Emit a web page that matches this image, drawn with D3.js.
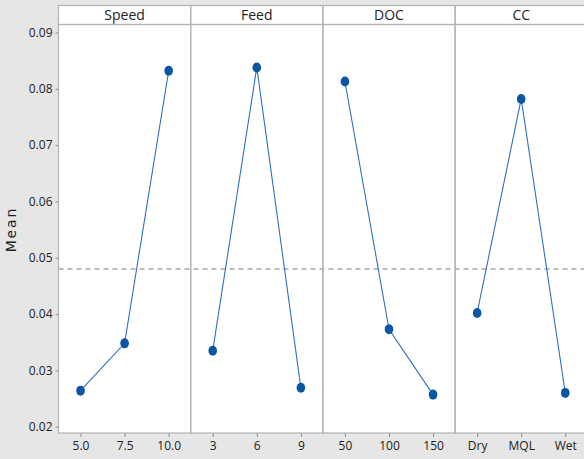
<!DOCTYPE html>
<html>
<head>
<meta charset="utf-8">
<script src="https://cdn.jsdelivr.net/npm/d3@7"></script>
<style>
  html, body { margin: 0; padding: 0; background: #e6e6e6; }
  svg { display: block; }
  text { font-family: "Open Sans", "Noto Sans", sans-serif; fill: #222; }
</style>
</head>
<body>
<svg id="chart" width="584" height="459"></svg>
<script>
// Main effects plot for means
const factors = ["Speed", "Feed", "DOC", "CC"];
const levels = [
  ["5.0", "7.5", "10.0"],
  ["3", "6", "9"],
  ["50", "100", "150"],
  ["Dry", "MQL", "Wet"]
];
const means = [
  [0.0264, 0.0348, 0.0832],
  [0.0335, 0.0838, 0.0269],
  [0.0813, 0.0373, 0.0257],
  [0.0402, 0.0782, 0.0260]
];
const grandMean = 0.0480;
const yTicks = [0.02, 0.03, 0.04, 0.05, 0.06, 0.07, 0.08, 0.09];

const svg = d3.select("#chart");
const plotLeft = 58.5, plotTop = 24.5, plotBottom = 433, stripTop = 5.5;
const panelW = 132.2;

const y = d3.scaleLinear().domain([0.01888, 0.09142]).range([plotBottom, plotTop]);
const panelX = d3.scaleBand().domain(factors).range([plotLeft, plotLeft + panelW * factors.length]);

// White plotting area and strip area
svg.append("rect")
  .attr("x", plotLeft).attr("y", stripTop)
  .attr("width", panelW * factors.length).attr("height", plotBottom - stripTop)
  .attr("fill", "#fff");

// Grand mean reference line
svg.append("line")
  .attr("x1", plotLeft).attr("x2", 584)
  .attr("y1", y(grandMean)).attr("y2", y(grandMean))
  .attr("stroke", "#a6a6a6").attr("stroke-width", 1.3)
  .attr("stroke-dasharray", "5,4");

// Y axis
const yAxis = d3.axisLeft(y).tickValues(yTicks).tickFormat(d3.format(".2f")).tickSize(3).tickPadding(3);
const ya = svg.append("g").attr("transform", `translate(${plotLeft},0)`).call(yAxis);
ya.select(".domain").remove();
ya.selectAll(".tick line").attr("stroke", "#888");
ya.selectAll(".tick text").attr("font-size", 12).style("font-family", "'Open Sans', sans-serif").attr("fill", "#222");

// Y axis title
svg.append("text")
  .attr("transform", `translate(16,${y(0.055)}) rotate(-90)`)
  .attr("text-anchor", "middle")
  .attr("font-size", 14)
  .attr("letter-spacing", 1.8)
  .style("font-family", "'DejaVu Sans', sans-serif")
  .text("Mean");

const line = d3.line();

factors.forEach((f, i) => {
  const x0 = panelX(f);
  const x = d3.scalePoint().domain(levels[i]).range([x0, x0 + panelW]).padding(0.5);
  const g = svg.append("g");

  // x axis for this panel
  const xa = g.append("g").attr("transform", `translate(0,${plotBottom})`)
    .call(d3.axisBottom(x).tickSize(4).tickPadding(4));
  xa.select(".domain").remove();
  xa.selectAll(".tick line").attr("stroke", "#888");
  xa.selectAll(".tick text").attr("font-size", 12).style("font-family", "'Open Sans', sans-serif").attr("fill", "#222");

  // strip label
  g.append("text")
    .attr("x", x0 + panelW / 2).attr("y", (stripTop + plotTop) / 2 + 5)
    .attr("text-anchor", "middle").attr("font-size", 14)
    .text(f);

  const pts = levels[i].map((lv, j) => [x(lv), y(means[i][j])]);
  g.append("path").attr("d", line(pts))
    .attr("fill", "none").attr("stroke", "#2f70c0").attr("stroke-width", 1.1);
  g.selectAll("ellipse").data(pts).join("ellipse")
    .attr("cx", d => d[0]).attr("cy", d => d[1])
    .attr("rx", 4.3).attr("ry", 5)
    .attr("fill", "#0b56a4");
});

// Panel frames
const frame = svg.append("g").attr("fill", "none").attr("stroke", "#b3b3b3").attr("stroke-width", 1.2);
factors.forEach(f => {
  const x0 = panelX(f);
  frame.append("rect").attr("x", x0).attr("y", stripTop).attr("width", panelW).attr("height", plotTop - stripTop);
  frame.append("rect").attr("x", x0).attr("y", plotTop).attr("width", panelW).attr("height", plotBottom - plotTop);
});
</script>
</body>
</html>
